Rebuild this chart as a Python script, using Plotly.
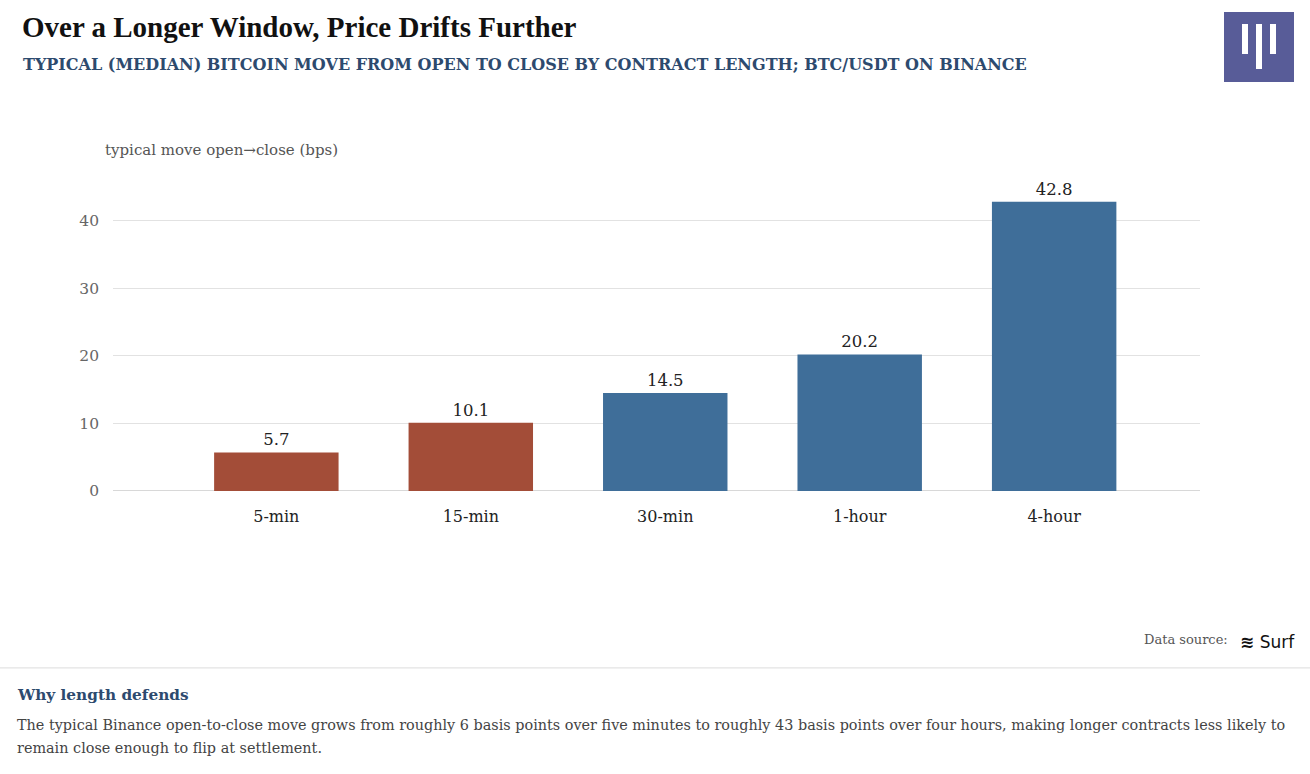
import plotly.graph_objects as go

# data
labels = ["5-min", "15-min", "30-min", "1-hour", "4-hour"]
moves = [5.7, 10.1, 14.5, 20.2, 42.8]
colors = ["#a34d38", "#a34d38", "#3f6e99", "#3f6e99", "#3f6e99"]
y_ticks = [0, 10, 20, 30, 40]

W, H = 1310, 774
# the photographed page comes out a little squashed vertically
SQ = 0.9885


def px(x):
    return x / W


def py(y):
    return 1 - (y / SQ) / H


serif = "Liberation Serif, DejaVu Serif, serif"
serif2 = "DejaVu Serif, Liberation Serif, serif"

fig = go.Figure(
    go.Bar(
        x=labels,
        y=moves,
        marker=dict(color=colors, line=dict(width=0)),
        width=0.64,
        text=[f"{v:.1f}" for v in moves],
        textposition="outside",
        textfont=dict(family=serif2, size=16.5, color="#222"),
        cliponaxis=False,
        hoverinfo="skip",
    )
)

fig.update_layout(
    width=W,
    height=H,
    margin=dict(l=0, r=0, t=0, b=0),
    paper_bgcolor="white",
    plot_bgcolor="white",
    showlegend=False,
    xaxis=dict(
        domain=[px(113), px(1200)],
        range=[-0.84, 4.75],
        showgrid=False,
        showline=False,
        ticks="",
        tickfont=dict(family=serif2, size=16, color="#222"),
        ticklabelstandoff=14,
    ),
    yaxis=dict(
        domain=[py(491), py(187)],
        range=[0, 45],
        tickvals=y_ticks,
        showgrid=True,
        gridcolor="#e2e2e2",
        gridwidth=1,
        zeroline=True,
        zerolinecolor="#d8d8d8",
        zerolinewidth=1,
        tickfont=dict(family=serif2, size=15.5, color="#666"),
        ticks="",
        ticklabelstandoff=13,
    ),
)

anns = [
    dict(x=px(20), y=py(27), text="<b>Over a Longer Window, Price Drifts Further</b>",
         font=dict(family=serif, size=29, color="#111")),
    dict(x=px(21), y=py(65),
         text="<b>TYPICAL (MEDIAN) BITCOIN MOVE FROM OPEN TO CLOSE BY CONTRACT LENGTH; BTC/USDT ON BINANCE</b>",
         font=dict(family=serif2, size=16, color="#2d4a6e")),
    dict(x=px(103), y=py(150), text="typical move open→close (bps)",
         font=dict(family=serif2, size=15, color="#555")),
    dict(x=px(1230), y=py(640), text="Data source:", xanchor="right",
         font=dict(family=serif2, size=13, color="#555")),
    dict(x=px(1238), y=py(642), text="<b>≋</b> Surf",
         font=dict(family="DejaVu Sans, sans-serif", size=17, color="#111")),
    dict(x=px(15), y=py(695), text="<b>Why length defends</b>",
         font=dict(family=serif2, size=15.3, color="#2d4a6e")),
    dict(x=px(15), y=py(725),
         text="The typical Binance open-to-close move grows from roughly 6 basis points over five minutes to roughly 43 basis points over four hours, making longer contracts less likely to",
         font=dict(family=serif2, size=14.4, color="#444")),
    dict(x=px(15), y=py(748), text="remain close enough to flip at settlement.",
         font=dict(family=serif2, size=14.4, color="#444")),
]
for a in anns:
    a.setdefault("xanchor", "left")
    fig.add_annotation(xref="paper", yref="paper", yanchor="middle",
                       showarrow=False, **a)

# separator line above the notes
fig.add_shape(type="line", xref="paper", yref="paper",
              x0=0, x1=1, y0=py(668), y1=py(668),
              line=dict(color="#dcdcdc", width=1))

# logo block
fig.add_shape(type="rect", xref="paper", yref="paper",
              x0=px(1224), x1=px(1294), y0=py(82), y1=py(12),
              fillcolor="#585c98", line=dict(width=0))
for x0, x1, y0, y1 in [(1242, 1248, 24, 54), (1256, 1262, 24, 69), (1270, 1276, 24, 54)]:
    fig.add_shape(type="rect", xref="paper", yref="paper",
                  x0=px(x0), x1=px(x1), y0=py(y1), y1=py(y0),
                  fillcolor="white", line=dict(width=0))

page_fix = (
    "document.documentElement.style.margin='0';"
    "document.documentElement.style.overflow='hidden';"
    "document.body.style.margin='0';"
    "document.body.style.overflow='hidden';"
)
fig.write_html("out.html", config={"displayModeBar": False}, post_script=page_fix)
